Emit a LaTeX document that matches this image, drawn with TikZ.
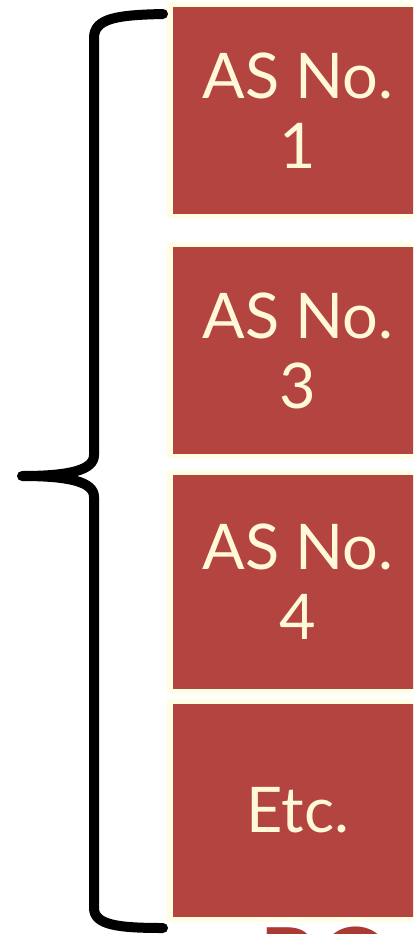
\documentclass[tikz,border=0pt]{standalone}
\usepackage{fontspec}
\setmainfont{Lato}
\definecolor{boxred}{HTML}{B3443F}
\definecolor{boxcream}{HTML}{FFFDE3}
\definecolor{textcream}{HTML}{FFF9D9}
\definecolor{darkred}{HTML}{AA3833}
\tikzset{
  creambox/.style={fill=boxcream, draw=none},
  redbox/.style={fill=boxred, draw=none},
  label/.style={text=textcream, inner sep=0pt, align=center, font=\fontsize{63}{70}\selectfont},
  brace/.style={draw=black, line width=10pt, line cap=round, line join=round}
}
\begin{document}
\begin{tikzpicture}[x=1pt,y=-1pt]
\useasboundingbox (0,0) rectangle (413,934);
\clip (0,0) rectangle (413,934);
% boxes
\foreach \t/\b/\n in {7/214/a,247/454/b,475/689/c,704/917/d}{
  \fill[boxcream] (167,\t-5) rectangle (430,\b+5);
  \fill[boxred] (173,\t) rectangle (430,\b);
}
\node[label] (n1) at (298,110.5) {AS No.\\1};
\node[label] (n2) at (298,350.5) {AS No.\\3};
\node[label] (n3) at (298,582) {AS No.\\4};
\node[label] (n4) at (298,810.5) {Etc.};
% partial text below (cut off by the picture's edge, as in the reference)
\node[anchor=north west, inner sep=0pt, text=darkred, font=\fontsize{96}{96}\selectfont] (roa) at (258,927) {ROA};
% brace
\path[brace] (163,14) .. controls (118,15) and (94,18) .. (94,38)
  -- (94,455) .. controls (94,470) and (70,476) .. (22,476)
  .. controls (70,476) and (94,482) .. (94,497)
  -- (94,908) .. controls (94,925) and (118,928) .. (163,928);
\end{tikzpicture}
\end{document}
